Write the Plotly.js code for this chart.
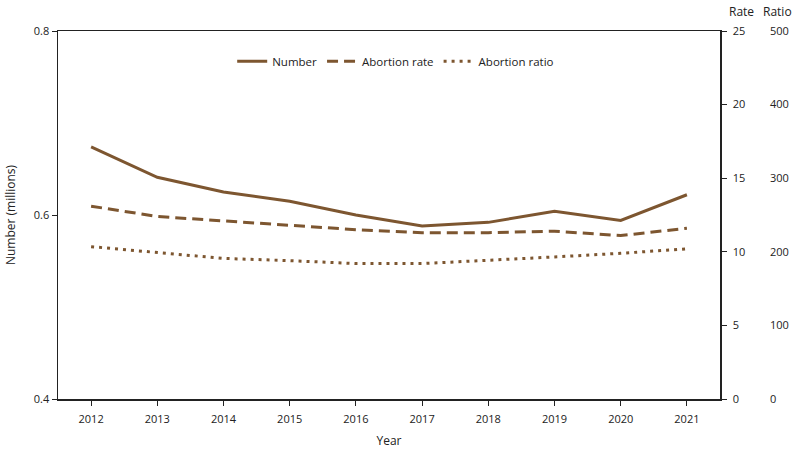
<!DOCTYPE html>
<html>
<head>
<meta charset="utf-8">
<script src="https://cdn.plot.ly/plotly-3.0.1.min.js"></script>
<style>html,body{margin:0;padding:0;background:#fff;} #chart{width:800px;height:450px;}</style>
</head>
<body>
<div id="chart"></div>
<script>
const years = [2012, 2013, 2014, 2015, 2016, 2017, 2018, 2019, 2020, 2021];
const numberMillions = [0.674, 0.641, 0.625, 0.615, 0.600, 0.588, 0.592, 0.604, 0.594, 0.622];
const abortionRate = [13.1, 12.4, 12.1, 11.8, 11.5, 11.3, 11.3, 11.4, 11.1, 11.6];
const abortionRatio = [207, 199, 191, 188, 184, 184, 188, 193, 198, 204];
const leftTicks = [0.4, 0.6, 0.8];
const rateTicks = [0, 5, 10, 15, 20, 25];
const ratioTicks = [0, 100, 200, 300, 400, 500];

const color = '#7d5630';
const font = {family: 'Open Sans, sans-serif', size: 11, color: '#222'};
const titleFont = {family: 'Open Sans, sans-serif', size: 12, color: '#222'};

const traces = [
  {x: years, y: numberMillions, name: 'Number', type: 'scatter', mode: 'lines',
   line: {color: color, width: 3}, yaxis: 'y'},
  {x: years, y: abortionRate, name: 'Abortion rate', type: 'scatter', mode: 'lines',
   line: {color: color, width: 3, dash: '11px,6px'}, yaxis: 'y2'},
  {x: years, y: abortionRatio, name: 'Abortion ratio', type: 'scatter', mode: 'lines',
   line: {color: color, width: 3, dash: '3px,5px'}, yaxis: 'y3'}
];

const layout = {
  width: 800, height: 450,
  margin: {l: 57.5, r: 31, t: 31, b: 51, pad: 0},
  paper_bgcolor: '#fff', plot_bgcolor: '#fff',
  font: font,
  showlegend: true,
  legend: {orientation: 'h', x: 0.245, xanchor: 'left', y: 0.918, yanchor: 'middle',
           font: {family: 'Open Sans, sans-serif', size: 11.5, color: '#222'},
           bgcolor: 'rgba(0,0,0,0)', itemwidth: 30, tracegroupgap: 0},
  xaxis: {domain: [0, 0.9311], range: [2011.5, 2021.5], tickvals: years,
          ticks: 'outside', ticklen: 5, tickcolor: '#222', showline: true, linecolor: '#222',
          linewidth: 1.5, mirror: true, showgrid: false, zeroline: false, ticklabelstandoff: 4,
          title: {text: 'Year', font: titleFont, standoff: 12},
          fixedrange: true},
  yaxis: {range: [0.4, 0.8], tickvals: leftTicks, ticktext: ['0.4', '0.6', '0.8'],
          ticks: 'outside', ticklen: 5, tickcolor: '#222', showline: true, linecolor: '#222',
          linewidth: 1.5, showgrid: false, zeroline: false,
          title: {text: 'Number (millions)', font: titleFont, standoff: 15}},
  yaxis2: {overlaying: 'y', side: 'right', anchor: 'x', range: [0, 25], tickvals: rateTicks,
           ticks: 'outside', ticklen: 5, tickcolor: '#222', showline: true, linecolor: '#222',
           linewidth: 1.5, showgrid: false, zeroline: false, ticklabelstandoff: 4},
  yaxis3: {overlaying: 'y', side: 'right', anchor: 'free', position: 1, range: [0, 500],
           tickvals: ratioTicks, ticks: '', showline: false, showgrid: false, zeroline: false},
  annotations: [
    {text: 'Rate', xref: 'paper', yref: 'paper', x: 0.961, y: 1.054, xanchor: 'center', yanchor: 'middle',
     showarrow: false, font: titleFont},
    {text: 'Ratio', xref: 'paper', yref: 'paper', x: 1.0126, y: 1.054, xanchor: 'center', yanchor: 'middle',
     showarrow: false, font: titleFont}
  ]
};

Plotly.newPlot('chart', traces, layout, {displayModeBar: false, staticPlot: true});
</script>
</body>
</html>
